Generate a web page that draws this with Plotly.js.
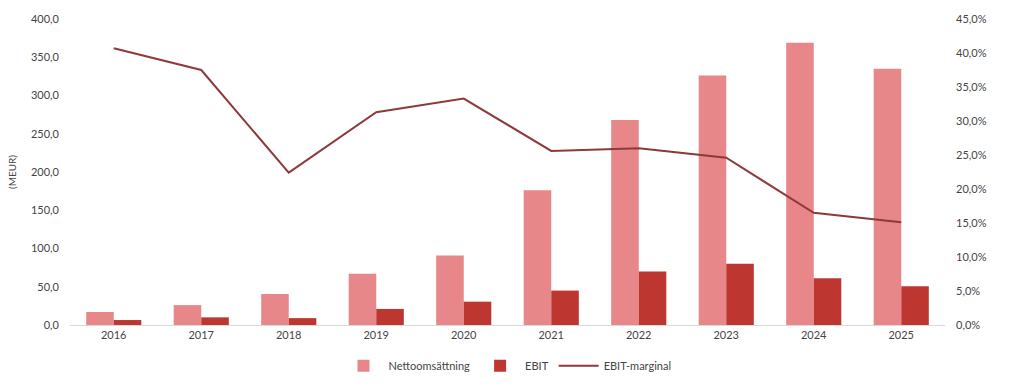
<!DOCTYPE html>
<html>
<head>
<meta charset="utf-8">
<script src="https://cdn.plot.ly/plotly-3.0.1.min.js"></script>
<style>html,body{margin:0;padding:0;background:#fff;}#chart{width:1024px;height:390px;}</style>
</head>
<body>
<div id="chart"></div>
<script>
const years = ['2016','2017','2018','2019','2020','2021','2022','2023','2024','2025'];
const nettoomsattning = [17, 26, 40.5, 67, 91, 176, 268, 326, 369, 335];
const ebit = [6.5, 10, 9, 21, 30.5, 45, 70, 80, 61, 50.5];
const ebitMarginal = [0.407, 0.375, 0.224, 0.313, 0.333, 0.256, 0.260, 0.246, 0.165, 0.151];

const font = {family: 'Lato, "Open Sans", sans-serif', size: 11, color: '#444'};

const data = [
  {type: 'bar', name: 'Nettoomsättning', x: years, y: nettoomsattning, marker: {color: '#E8878A'}, yaxis: 'y'},
  {type: 'bar', name: 'EBIT', x: years, y: ebit, marker: {color: '#BE3630'}, yaxis: 'y'},
  {type: 'scatter', mode: 'lines', name: 'EBIT-marginal', x: years, y: ebitMarginal, line: {color: '#8E3A3A', width: 2}, yaxis: 'y2'}
];

const layout = {
  width: 1024, height: 390,
  margin: {l: 70, r: 79, t: 19, b: 65},
  paper_bgcolor: '#fff', plot_bgcolor: '#fff',
  font: font,
  separators: ', ',
  barmode: 'group',
  bargap: 0.37,
  bargroupgap: 0,
  showlegend: true,
  legend: {orientation: 'h', x: 0.5, xanchor: 'center', yref: 'container', y: 0.062, yanchor: 'middle', font: font, itemwidth: 40, traceorder: 'normal'},
  xaxis: {
    type: 'category', showgrid: false, showline: true, linecolor: '#d9d9d9', linewidth: 1,
    ticks: '', tickfont: font, zeroline: false
  },
  yaxis: {
    range: [0, 400], dtick: 50, tickformat: '.1f', showgrid: false, zeroline: false,
    showline: false, ticks: '', tickfont: font, ticklabelstandoff: 10,
    title: {text: '(MEUR)', font: {family: font.family, size: 10, color: '#444'}, standoff: 12}
  },
  yaxis2: {
    overlaying: 'y', side: 'right', range: [0, 0.45], dtick: 0.05, tickformat: '.1%',
    showgrid: false, zeroline: false, showline: false, ticks: '', tickfont: font, ticklabelstandoff: 10
  }
};

Plotly.newPlot('chart', data, layout, {displayModeBar: false, staticPlot: true});
</script>
</body>
</html>
